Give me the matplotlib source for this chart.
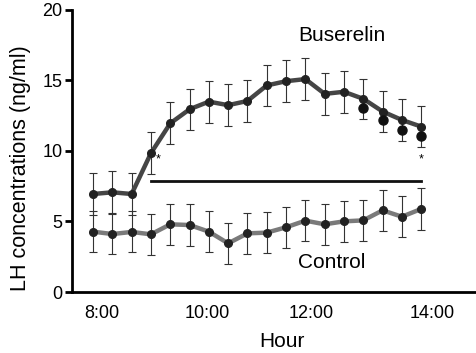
import numpy as np
import matplotlib
matplotlib.use("Agg")
import matplotlib.pyplot as plt

plt.rcParams['font.family'] = ['Liberation Sans', 'DejaVu Sans']

# sample times (hours), every 20 min
hours = 8 + np.arange(18) / 3

buserelin = [6.95, 7.07, 6.95, 9.85, 11.96, 12.96, 13.5, 13.25, 13.55, 14.65,
             14.95, 15.1, 14.05, 14.2, 13.7, 12.8, 12.2, 11.73]
buserelin_err = [1.5, 1.5, 1.5, 1.47, 1.48, 1.47, 1.48, 1.47, 1.48, 1.48,
                 1.48, 1.47, 1.48, 1.47, 1.44, 1.47, 1.48, 1.47]
control = [4.28, 4.11, 4.26, 4.09, 4.8, 4.75, 4.28, 3.45, 4.16, 4.21,
           4.59, 5.06, 4.8, 5.01, 5.08, 5.79, 5.34, 5.89]
control_err = [1.45, 1.45, 1.45, 1.47, 1.47, 1.47, 1.47, 1.47, 1.47, 1.47,
               1.47, 1.47, 1.47, 1.47, 1.47, 1.47, 1.47, 1.47]
# extra dots under the last four Buserelin points
extra_idx = [14, 15, 16, 17]
extra_vals = [13.03, 12.2, 11.49, 11.04]

tick_pos = [8.155, 9.97, 11.77, 13.855]
tick_labels = ['8:00', '10:00', '12:00', '14:00']

fig = plt.figure(figsize=(4.77, 3.53), dpi=100)
ax = fig.add_axes([0.151, 0.1728, 0.849, 0.7989])

ax.errorbar(hours, control, yerr=control_err, fmt='none', ecolor='#333333',
            elinewidth=0.8, capsize=3, capthick=0.8, zorder=1)
ax.errorbar(hours, buserelin, yerr=buserelin_err, fmt='none', ecolor='#333333',
            elinewidth=0.8, capsize=3, capthick=0.8, zorder=1)
ax.plot(hours, control, color='#7a7a7a', lw=3.2, zorder=2)
ax.plot(hours, control, 'o', color='#222222', ms=5.5, zorder=3)
ax.plot(hours, buserelin, color='#454545', lw=3.2, zorder=2)
ax.plot(hours, buserelin, 'o', color='#222222', ms=5.5, zorder=3)
ax.plot(hours[extra_idx], extra_vals, 'o', color='#111111', ms=6.5, zorder=3)

ax.plot([hours[3], hours[17]], [7.9, 7.9], color='#111111', lw=2, zorder=1)
ax.text(hours[3] + 0.12, 9.4, '*', fontsize=9, ha='center', va='center')
ax.text(hours[17], 9.4, '*', fontsize=9, ha='center', va='center')

ax.text(12.3, 18.2, 'Buserelin', fontsize=15, ha='center', va='center')
ax.text(12.12, 2.06, 'Control', fontsize=15, ha='center', va='center')

ax.set_xlim(7.637, 14.63)
ax.set_ylim(0, 20)
ax.set_yticks([0, 5, 10, 15, 20])
ax.set_xticks(tick_pos)
ax.set_xticklabels(tick_labels)
ax.tick_params(axis='x', length=0, labelsize=13, pad=9)
ax.tick_params(axis='y', length=5, width=2, labelsize=13, pad=2)
ax.spines['top'].set_visible(False)
ax.spines['right'].set_visible(False)
ax.spines['left'].set_linewidth(2)
ax.spines['bottom'].set_linewidth(2)
ax.set_ylabel('LH concentrations (ng/ml)', fontsize=15.5)
ax.yaxis.set_label_coords(-0.102, 0.44)
ax.set_xlabel('Hour', fontsize=15)
ax.xaxis.set_label_coords(0.519, -0.142)

fig.savefig('out.png', dpi=100)
